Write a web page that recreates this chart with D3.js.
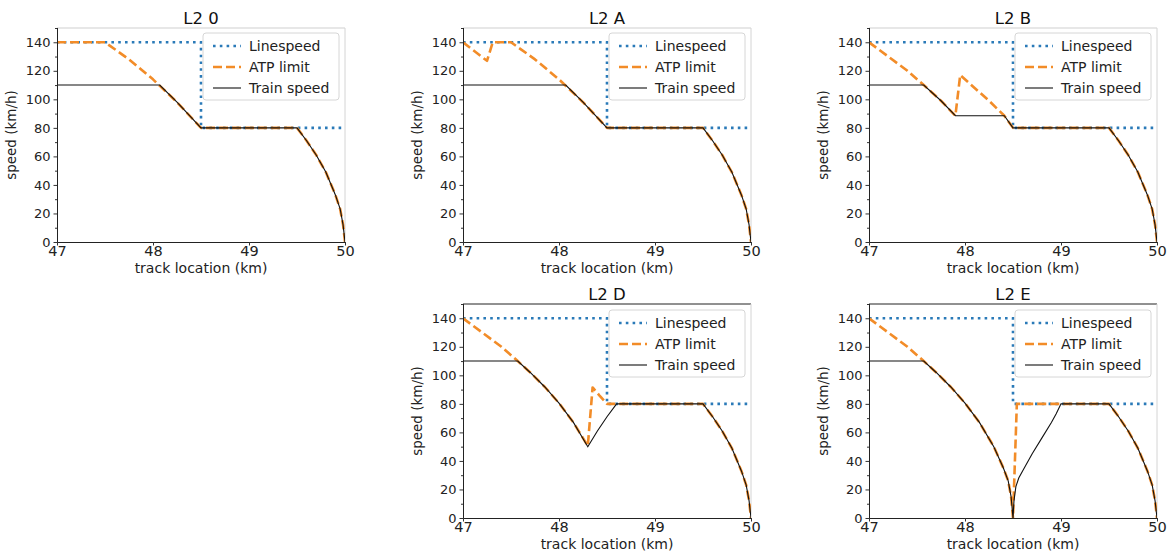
<!DOCTYPE html>
<html>
<head>
<meta charset="utf-8">
<script src="https://cdn.jsdelivr.net/npm/d3@7/dist/d3.min.js"></script>
<style>
  html, body { margin: 0; padding: 0; background: #fff; }
  svg { display: block; font-family: "DejaVu Sans", sans-serif; }
</style>
</head>
<body>
<svg id="chart" width="1172" height="555"></svg>
<script>
// ---------- data ----------
const panelTitles = ["L2 0", "L2 A", "L2 B", "L2 D", "L2 E"];
const xTicks = [47, 48, 49, 50];
const yTicks = [0, 20, 40, 60, 80, 100, 120, 140];
const yMinorTicks = [10, 30, 50, 70, 90, 110, 130, 150];
const legendLabels = ["Linespeed", "ATP limit", "Train speed"];

// [track location km, speed km/h]
const lineSpeed = [[47, 140], [48.5, 140], [48.5, 80], [50, 80]];

const atp_L2_0 = [[47, 140], [47.5, 140], [47.75, 128], [48, 114], [48.25, 98], [48.5, 80], [49.5, 80],
  [49.6, 71], [49.7, 61], [49.8, 49], [49.9, 33], [49.95, 23], [49.98, 12], [50, 0]];
const train_L2_0 = [[47, 110], [48.07, 110], [48.25, 98], [48.5, 80], [49.5, 80],
  [49.6, 71], [49.7, 61], [49.8, 49], [49.9, 33], [49.95, 23], [49.98, 12], [50, 0]];

const atp_L2_A = [[47, 140], [47.25, 127], [47.31, 140], [47.5, 140], [47.75, 128], [48, 114], [48.25, 98],
  [48.5, 80], [49.5, 80], [49.6, 71], [49.7, 61], [49.8, 49], [49.9, 33], [49.95, 23], [49.98, 12], [50, 0]];
const train_L2_A = [[47, 110], [48.07, 110], [48.25, 98], [48.5, 80], [49.5, 80],
  [49.6, 71], [49.7, 61], [49.8, 49], [49.9, 33], [49.95, 23], [49.98, 12], [50, 0]];

const atp_L2_B = [[47, 140], [47.2, 130], [47.4, 120], [47.57, 110], [47.75, 99], [47.9, 88.5], [47.95, 117],
  [48.1, 108], [48.25, 99], [48.41, 88.5], [48.5, 80], [49.5, 80],
  [49.6, 71], [49.7, 61], [49.8, 49], [49.9, 33], [49.95, 23], [49.98, 12], [50, 0]];
const train_L2_B = [[47, 110], [47.57, 110], [47.75, 99], [47.9, 88.5], [48.41, 88.5], [48.5, 80], [49.5, 80],
  [49.6, 71], [49.7, 61], [49.8, 49], [49.9, 33], [49.95, 23], [49.98, 12], [50, 0]];

const atp_L2_D = [[47, 140], [47.2, 130], [47.4, 120], [47.57, 110], [47.7, 102], [47.85, 92], [48, 80.5],
  [48.15, 67], [48.3, 50.5], [48.35, 91.5], [48.42, 86], [48.5, 80], [49.5, 80],
  [49.6, 71], [49.7, 61], [49.8, 49], [49.9, 33], [49.95, 23], [49.98, 12], [50, 0]];
const train_L2_D = [[47, 110], [47.57, 110], [47.7, 102], [47.85, 92], [48, 80.5], [48.15, 67], [48.3, 50],
  [48.4, 61], [48.5, 71], [48.6, 80], [49.5, 80],
  [49.6, 71], [49.7, 61], [49.8, 49], [49.9, 33], [49.95, 23], [49.98, 12], [50, 0]];

const atp_L2_E = [[47, 140], [47.2, 130], [47.4, 120], [47.57, 110], [47.7, 102], [47.85, 92], [48, 80.5],
  [48.15, 67], [48.3, 50], [48.4, 35], [48.45, 26], [48.48, 15], [48.5, 0], [48.54, 80], [49.5, 80],
  [49.6, 71], [49.7, 61], [49.8, 49], [49.9, 33], [49.95, 23], [49.98, 12], [50, 0]];
const train_L2_E = [[47, 110], [47.57, 110], [47.7, 102], [47.85, 92], [48, 80.5], [48.15, 67], [48.3, 50],
  [48.4, 35], [48.45, 26], [48.48, 15], [48.5, 0], [48.51, 12], [48.53, 22], [48.56, 28], [48.6, 33],
  [48.7, 45], [48.8, 56], [48.9, 67], [48.95, 73], [49, 80], [49.5, 80],
  [49.6, 71], [49.7, 61], [49.8, 49], [49.9, 33], [49.95, 23], [49.98, 12], [50, 0]];

const atpSeries = [atp_L2_0, atp_L2_A, atp_L2_B, atp_L2_D, atp_L2_E];
const trainSeries = [train_L2_0, train_L2_A, train_L2_B, train_L2_D, train_L2_E];

// ---------- layout ----------
const W = 288, H = 214;
const origins = [[57, 28, 0], [463, 28, 0], [869, 28, 0], [463, 304, 1], [869, 304, 1]];
const colLine = "#2a7ab8", colATP = "#f28c28", colTrain = "#111";

const svg = d3.select("#chart");
const x = d3.scaleLinear().domain([47, 50]).range([0, W]);
const y = d3.scaleLinear().domain([0, 150]).range([H, 0]);
const line = d3.line().x(d => x(d[0])).y(d => y(d[1]));

panelTitles.forEach((title, i) => {
  const [ox, oy, row] = origins[i];
  const g = svg.append("g").attr("transform", `translate(${ox},${oy})`);

  g.append("clipPath").attr("id", "clip" + i)
    .append("rect").attr("x", 0).attr("y", 0).attr("width", W).attr("height", H);

  // spines top/right
  g.append("line").attr("x1", 0).attr("x2", W).attr("y1", 0).attr("y2", 0)
    .attr("stroke", row === 1 ? "#222" : "#cfcfcf").attr("stroke-width", 1);
  g.append("line").attr("x1", W).attr("x2", W).attr("y1", 0).attr("y2", H)
    .attr("stroke", "#d4d4d4").attr("stroke-width", 1);

  const plot = g.append("g").attr("clip-path", `url(#clip${i})`);
  plot.append("path").datum(lineSpeed).attr("d", line)
    .attr("fill", "none").attr("stroke", colLine).attr("stroke-width", 2.6)
    .attr("stroke-dasharray", "2.6,4.2");
  plot.append("path").datum(atpSeries[i]).attr("d", line)
    .attr("fill", "none").attr("stroke", colATP).attr("stroke-width", 2.6)
    .attr("stroke-dasharray", "9,4").attr("stroke-linejoin", "round");
  plot.append("path").datum(trainSeries[i]).attr("d", line)
    .attr("fill", "none").attr("stroke", colTrain).attr("stroke-width", 1.1);

  // axes
  const xa = g.append("g").attr("transform", `translate(0,${H})`)
    .call(d3.axisBottom(x).tickValues(xTicks).tickFormat(d3.format("d")).tickSize(3.5).tickPadding(0.5));
  xa.selectAll("text").attr("font-size", 14.5).attr("fill", "#222").attr("font-family", "DejaVu Sans");
  const ya = g.append("g")
    .call(d3.axisLeft(y).tickValues(yTicks).tickFormat(d3.format("d")).tickSize(3.5).tickPadding(3));
  ya.selectAll("text").attr("font-size", 13).attr("fill", "#222").attr("font-family", "DejaVu Sans");
  g.append("g").call(d3.axisLeft(y).tickValues(yMinorTicks).tickFormat("").tickSize(2))
    .select(".domain").remove();
  g.selectAll(".domain").attr("stroke", "#222");
  g.selectAll(".tick line").attr("stroke", "#333");
  xa.select(".domain").attr("d", `M0,0.5H${W}`);
  ya.select(".domain").attr("d", `M0.5,${H}V0`);

  // labels
  g.append("text").attr("x", W / 2).attr("y", -4).attr("text-anchor", "middle")
    .attr("font-size", 16.5).attr("fill", "#111").text(title);
  g.append("text").attr("x", W / 2).attr("y", H + 30.5).attr("text-anchor", "middle")
    .attr("font-size", 14).attr("fill", "#222").text("track location (km)");
  g.append("text").attr("transform", `translate(${-41},${H / 2}) rotate(-90)`)
    .attr("text-anchor", "middle").attr("font-size", 13.5).attr("fill", "#222").text("speed (km/h)");

  // legend
  const lw = 136, lh = 67;
  const lg = g.append("g").attr("transform", `translate(${W - 6 - lw},${row === 1 ? 6 : 5})`);
  lg.append("rect").attr("width", lw).attr("height", lh).attr("rx", 3)
    .attr("fill", "#fff").attr("fill-opacity", 0.85).attr("stroke", "#d6d6d6");
  const styles = [
    { c: colLine, w: 2.6, dash: "2.6,4.2" },
    { c: colATP, w: 2.6, dash: "9,4" },
    { c: colTrain, w: 1.1, dash: null }
  ];
  legendLabels.forEach((lab, k) => {
    const cy = 13 + k * 21;
    const l = lg.append("line").attr("x1", 10).attr("x2", 38).attr("y1", cy).attr("y2", cy)
      .attr("stroke", styles[k].c).attr("stroke-width", styles[k].w);
    if (styles[k].dash) l.attr("stroke-dasharray", styles[k].dash);
    lg.append("text").attr("x", 46).attr("y", cy + 5).attr("font-size", 14).attr("fill", "#222").text(lab);
  });
});
</script>
</body>
</html>
